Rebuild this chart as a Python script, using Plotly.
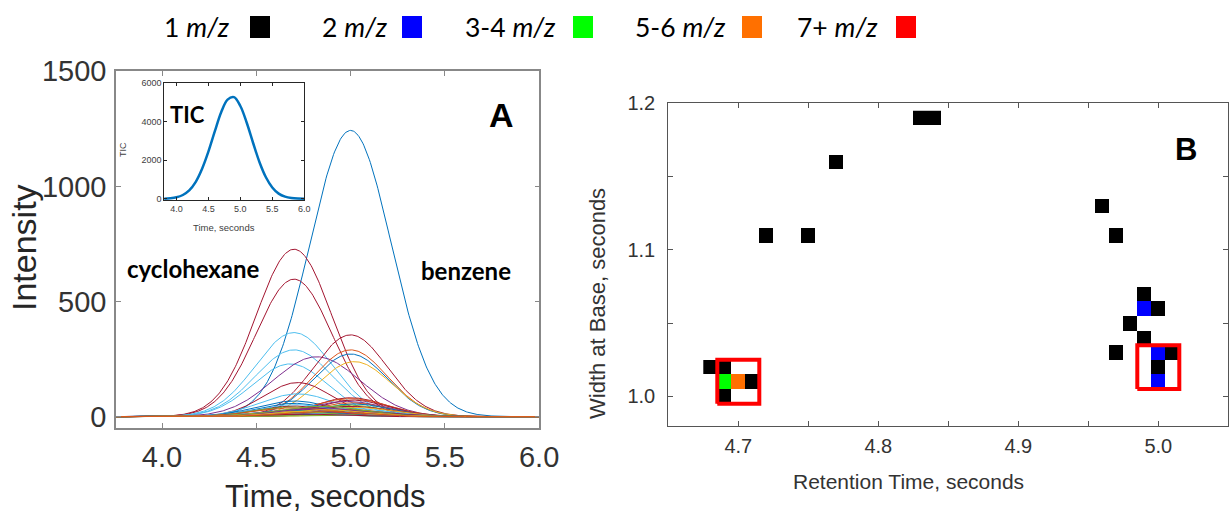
import numpy as np
import plotly.graph_objects as go

W, H = 1231, 514

# ---------------- Panel A data: extracted-ion chromatogram peaks ----------------
# apex time (s), apex intensity, peak sigma (s), colour index (MATLAB order)
peak_rt = [5.00, 4.70, 4.70, 4.70, 4.70, 4.68, 4.82, 5.00, 5.00, 5.00, 5.02, 4.72, 4.72, 4.70,
           5.00, 5.00, 5.01, 4.98, 5.00, 5.02, 4.99, 5.00, 5.03, 5.00, 4.98, 5.00, 5.02, 5.00, 4.99, 5.01, 5.00,
           4.70, 4.71, 4.70, 4.69, 4.70, 4.72, 4.70, 4.68, 4.70, 4.71, 4.70,
           4.85, 4.84, 4.86, 4.85]
peak_height = [1243, 727, 597, 365, 290, 229, 260, 355, 290, 272, 239, 148, 99, 68,
               82, 78, 72, 66, 60, 55, 50, 45, 40, 36, 32, 28, 24, 20, 16, 12, 8,
               58, 52, 46, 42, 38, 33, 28, 24, 20, 16, 12,
               45, 38, 30, 22]
peak_sigma = [0.215, 0.20, 0.20, 0.205, 0.205, 0.20, 0.23, 0.195, 0.195, 0.195, 0.195, 0.18, 0.20, 0.20,
              0.19, 0.20, 0.19, 0.21, 0.20, 0.19, 0.20, 0.21, 0.19, 0.20, 0.19, 0.20, 0.21, 0.19, 0.20, 0.19, 0.20,
              0.19, 0.20, 0.19, 0.20, 0.21, 0.19, 0.20, 0.19, 0.20, 0.19, 0.20,
              0.22, 0.21, 0.22, 0.21]
peak_color = [0, 6, 6, 5, 5, 5, 3, 6, 1, 0, 2, 6, 5, 0,
              6, 1, 6, 3, 1, 0, 4, 6, 2, 5, 1, 4, 3, 6, 0, 2, 4,
              0, 5, 6, 4, 1, 3, 0, 2, 4, 5, 6,
              4, 3, 2, 1]
matlab_colors = ["#0072BD", "#D95319", "#EDB120", "#7E2F8E", "#77AC30", "#4DBEEE", "#A2142F"]

# TIC inset
tic_time = [3.8, 3.9, 4.0, 4.1, 4.2, 4.3, 4.4, 4.5, 4.6, 4.7, 4.8, 4.9, 5.0, 5.1, 5.2, 5.3, 5.4,
            5.5, 5.6, 5.7, 5.8, 5.9, 6.0]
tic_value = [10, 30, 80, 200, 440, 870, 1550, 2450, 3500, 4500, 5150, 5280, 4820, 3950, 2900, 1900,
             1120, 590, 270, 115, 45, 15, 5]

# ---------------- Panel B data ----------------
b_rt = [4.72, 4.75, 4.77, 4.83, 4.84, 4.96, 4.97, 4.99, 4.99, 5.00, 4.98, 4.99, 4.97, 5.00, 5.01,
        5.00, 5.00, 4.68, 4.69, 4.69, 4.70, 4.71, 4.69]
b_width = [1.11, 1.11, 1.16, 1.19, 1.19, 1.13, 1.11, 1.07, 1.06, 1.06, 1.05, 1.04, 1.03, 1.03, 1.03,
           1.02, 1.01, 1.02, 1.02, 1.01, 1.01, 1.01, 1.00]
b_group = [1, 1, 1, 1, 1, 1, 1, 1, 2, 1, 1, 1, 1, 2, 1,
           1, 2, 1, 1, 3, 4, 1, 1]
group_labels = ["1 <i>m/z</i>", "2 <i>m/z</i>", "3-4 <i>m/z</i>", "5-6 <i>m/z</i>", "7+ <i>m/z</i>"]
group_colors = ["#000000", "#0000FF", "#00FF00", "#FF7000", "#FF0000"]

box_x0 = [4.685, 4.985]
box_x1 = [4.715, 5.015]
box_y0 = [0.995, 1.005]
box_y1 = [1.025, 1.035]

# ---------------- helpers ----------------
def px_x(p):
    return p / W

def px_y(p):
    return 1 - p / H

fig = go.Figure()

# Panel A curves
t = np.linspace(3.75, 6.0, 451)
for rt, h, s, c in zip(peak_rt, peak_height, peak_sigma, peak_color):
    y = h * np.exp(-((t - rt) ** 2) / (2 * s ** 2))
    fig.add_trace(go.Scatter(x=t, y=y, mode="lines", line=dict(color=matlab_colors[c], width=1),
                             xaxis="x", yaxis="y", hoverinfo="skip", showlegend=False))

# Inset TIC
fig.add_trace(go.Scatter(x=tic_time, y=tic_value, mode="lines", line=dict(color="#0072BD", width=2.5, shape="spline"),
                         xaxis="x2", yaxis="y2", hoverinfo="skip", showlegend=False))

# Panel B heatmap grid
xs = [round(4.68 + 0.01 * i, 2) for i in range(34)]
ys = [round(1.00 + 0.01 * j, 2) for j in range(20)]
z = [[None for _ in xs] for _ in ys]
for rx, wy, g in zip(b_rt, b_width, b_group):
    z[ys.index(round(wy, 2))][xs.index(round(rx, 2))] = g
cs = []
n = len(group_colors)
for i, col in enumerate(group_colors):
    cs.append([i / n, col])
    cs.append([(i + 1) / n, col])
fig.add_trace(go.Heatmap(x=xs, y=ys, z=z, colorscale=cs, zmin=0.5, zmax=5.5, showscale=False,
                         xaxis="x3", yaxis="y3", hoverinfo="skip", xgap=0, ygap=0))
for x0, x1, y0, y1 in zip(box_x0, box_x1, box_y0, box_y1):
    fig.add_trace(go.Scatter(x=[x0, x1, x1, x0, x0], y=[y0, y0, y1, y1, y0], mode="lines",
                             line=dict(color="#FF0000", width=4), xaxis="x3", yaxis="y3",
                             hoverinfo="skip", showlegend=False))

tick_font_A = dict(family="Liberation Sans, Arial", size=29, color="#333333")
tick_font_B = dict(family="Liberation Sans, Arial", size=20, color="#333333")
tick_font_I = dict(family="Liberation Sans, Arial", size=9, color="#404040")

fig.update_layout(
    width=W, height=H, margin=dict(l=0, r=0, t=0, b=0, autoexpand=False),
    paper_bgcolor="white", plot_bgcolor="white", showlegend=False,
    xaxis=dict(domain=[px_x(116), px_x(539.3)], range=[3.756, 6.001], tickvals=[4.0, 4.5, 5.0, 5.5, 6.0],
               ticktext=["4.0", "4.5", "5.0", "5.5", "6.0"], ticks="inside", ticklen=5, tickcolor="#888",
               showline=True, linecolor="#888", linewidth=1.5, mirror="ticks", showgrid=False, zeroline=False,
               tickfont=tick_font_A, anchor="y", ticklabelstandoff=3, automargin=False),
    yaxis=dict(domain=[px_y(427.7), px_y(71)], range=[-48, 1501], tickvals=[0, 500, 1000, 1500],
               ticks="inside", ticklen=5, tickcolor="#888", showline=True, linecolor="#888", linewidth=1.5,
               mirror="ticks", showgrid=False, zeroline=False, tickfont=tick_font_A, anchor="x",
               ticklabelstandoff=2, automargin=False),
    xaxis2=dict(domain=[px_x(164.3), px_x(304.3)], range=[3.81, 6.001], tickvals=[4.0, 4.5, 5.0, 5.5, 6.0],
                ticktext=["4.0", "4.5", "5.0", "5.5", "6.0"], ticks="inside", ticklen=3, tickcolor="#262626",
                showline=True, linecolor="#262626", linewidth=1, mirror="ticks", showgrid=False, zeroline=False,
                tickfont=tick_font_I, anchor="y2", automargin=False),
    yaxis2=dict(domain=[px_y(200), px_y(83.3)], range=[-60, 6000], tickvals=[0, 2000, 4000, 6000],
                ticks="inside", ticklen=3, tickcolor="#262626", showline=True, linecolor="#262626", linewidth=1,
                mirror="ticks", showgrid=False, zeroline=False, tickfont=tick_font_I, anchor="x2", automargin=False),
    xaxis3=dict(domain=[px_x(668.3), px_x(1228.3)], range=[4.65, 5.05], tick0=4.7, dtick=0.1, tickformat=".1f",
                ticks="inside", ticklen=5, tickcolor="#555", showline=True, linecolor="#555", linewidth=1.2,
                mirror="ticks", showgrid=False, zeroline=False, tickfont=tick_font_B, anchor="y3",
                minor=dict(tick0=4.65, dtick=0.05, ticks="inside", ticklen=5, tickcolor="#555", showgrid=False),
                ticklabelstandoff=2, automargin=False),
    yaxis3=dict(domain=[px_y(425.7), px_y(102.7)], range=[0.98, 1.2005], tick0=1.0, dtick=0.1, tickformat=".1f",
                ticks="inside", ticklen=5, tickcolor="#555", showline=True, linecolor="#555", linewidth=1.2,
                mirror="ticks", showgrid=False, zeroline=False, tickfont=tick_font_B, anchor="x3",
                minor=dict(tick0=1.0, dtick=0.05, ticks="inside", ticklen=5, tickcolor="#555", showgrid=False),
                ticklabelstandoff=8, automargin=False),
)

ann = []
def add_text(text, x, y, size, family="Liberation Sans, Arial", color="#262626", bold=False, angle=0,
             xanchor="center", yanchor="middle"):
    if bold:
        text = "<b>" + text + "</b>"
    ann.append(dict(text=text, x=px_x(x), y=px_y(y), xref="paper", yref="paper", showarrow=False,
                    font=dict(family=family, size=size, color=color), textangle=angle,
                    xanchor=xanchor, yanchor=yanchor))

# axis titles
add_text("Intensity", 24, 248, 34, angle=-90)
add_text("Time, seconds", 325, 496, 31)
add_text("TIC", 123, 150, 9, angle=-90, color="#404040")
add_text("Time, seconds", 224, 227, 9.5, color="#404040")
add_text("Width at Base, seconds", 597, 304, 22, angle=-90, color="#333333")
add_text("Retention Time, seconds", 908, 481, 21, color="#333333")
# panel labels
add_text("A", 501, 115, 34, bold=True, color="#000")
add_text("B", 1186, 149, 31, bold=True, color="#000")
add_text("TIC", 188, 115, 22, family="Lato", bold=True, color="#000")
add_text("cyclohexane", 193, 268, 24, family="Lato", bold=True, color="#000")
add_text("benzene", 466, 270, 24, family="Lato", bold=True, color="#000")

# legend
legend_text_right = [232, 390, 558, 728, 880]
legend_sq_left = [250, 402, 573, 742, 896]
shapes = []
for lab, col, xr, xs0 in zip(group_labels, group_colors, legend_text_right, legend_sq_left):
    add_text(lab, xr, 27, 26.5, family="Lato", color="#000", xanchor="right")
    shapes.append(dict(type="rect", xref="paper", yref="paper", x0=px_x(xs0), x1=px_x(xs0 + 20),
                       y0=px_y(38), y1=px_y(16), fillcolor=col, line=dict(width=0)))

fig.update_layout(annotations=ann, shapes=shapes)
fig.write_html("out.html")
